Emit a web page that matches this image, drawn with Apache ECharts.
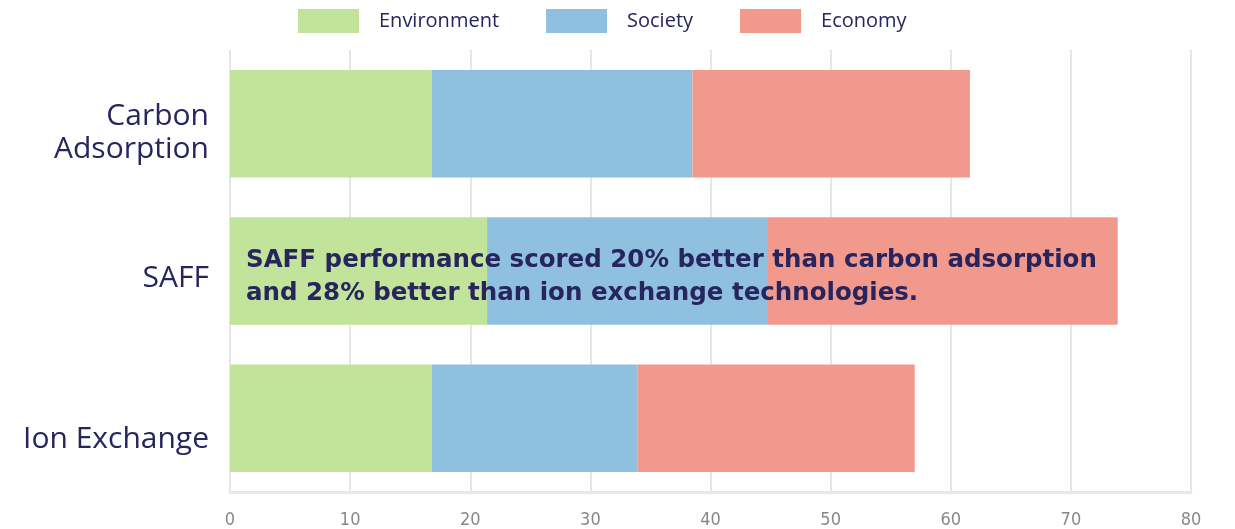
<!DOCTYPE html>
<html>
<head>
<meta charset="utf-8">
<script src="https://cdn.jsdelivr.net/npm/echarts@6/dist/echarts.min.js"></script>
<style>
  html, body { margin: 0; padding: 0; background: #fff; }
  #main { width: 1235px; height: 529px; }
</style>
</head>
<body>
<div id="main"></div>
<script>
var categories = ['Ion Exchange', 'SAFF', 'Carbon Adsorption'];
var environment = [16.8, 21.4, 16.8];
var society = [17.1, 23.3, 21.7];
var economy = [23.1, 29.2, 23.1];
var xTicks = [0, 10, 20, 30, 40, 50, 60, 70, 80];
var note = 'SAFF performance scored 20% better than carbon adsorption\nand 28% better than ion exchange technologies.';

var chartDom = document.getElementById('main');
var myChart = echarts.init(chartDom);
var navy = '#28245e';
var font = '"Open Sans", "Noto Sans", sans-serif';

// per-label vertical nudge, the original labels don't sit on the bar centre
var labelKey = { 'Ion Exchange': 'ion', 'SAFF': 'saff', 'Carbon Adsorption': 'carbon' };

var option = {
  animation: false,
  color: ['#c1e39a', '#90c0df', '#f2998d'],
  textStyle: { fontFamily: font },
  legend: {
    top: 4,
    left: 293,
    itemWidth: 61,
    itemHeight: 24,
    itemGap: 47,
    icon: 'rect',
    textStyle: { color: navy, fontSize: 20, padding: [0, 0, 0, 15] },
    data: ['Environment', 'Society', 'Economy']
  },
  grid: { left: 230, right: 44, top: 50, bottom: 37, containLabel: false },
  xAxis: {
    type: 'value',
    min: xTicks[0],
    max: xTicks[xTicks.length - 1],
    interval: 10,
    axisLine: { show: true, lineStyle: { color: '#e8e8e8', width: 3 } },
    axisTick: { show: false },
    splitLine: { lineStyle: { color: '#e6e6e6', width: 2 } },
    axisLabel: { color: '#888', fontSize: 18, margin: 19, fontFamily: '"Liberation Sans Narrow", "DejaVu Sans Condensed", sans-serif' }
  },
  yAxis: {
    type: 'category',
    data: categories,
    axisLine: { show: false },
    axisTick: { show: false },
    axisLabel: {
      color: navy,
      fontSize: 30,
      margin: 21,
      formatter: function (v) {
        var t = v === 'Carbon Adsorption' ? 'Carbon\nAdsorption' : v;
        return '{' + labelKey[v] + '|' + t + '}';
      },
      rich: {
        carbon: { color: navy, fontSize: 30, lineHeight: 33, fontFamily: font, padding: [18, 0, 0, 0] },
        saff: { color: navy, fontSize: 30, lineHeight: 33, fontFamily: font, padding: [14, 0, 0, 0] },
        ion: { color: navy, fontSize: 30, lineHeight: 33, fontFamily: font, padding: [42, 0, 0, 0] }
      }
    }
  },
  series: [
    { name: 'Environment', type: 'bar', stack: 'total', barWidth: '73%', data: environment },
    { name: 'Society', type: 'bar', stack: 'total', barWidth: '73%', data: society },
    { name: 'Economy', type: 'bar', stack: 'total', barWidth: '73%', data: economy }
  ],
  graphic: [{
    type: 'text',
    left: 246,
    top: 244,
    z: 100,
    style: {
      text: note,
      fill: navy,
      font: 'bold 24.5px "DejaVu Sans", sans-serif',
      lineHeight: 33
    }
  }]
};

option && myChart.setOption(option);
</script>
</body>
</html>
